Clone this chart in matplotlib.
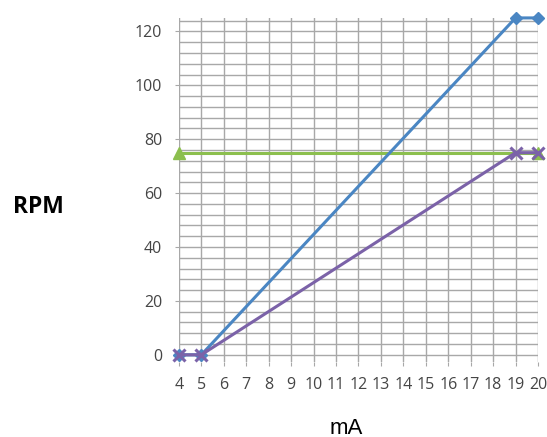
import numpy as np
import matplotlib.pyplot as plt
from matplotlib.ticker import MultipleLocator

# Data
ma_ticks = list(range(4, 21))
blue_x = [4, 5, 19, 20]
blue_rpm = [0, 0, 125, 125]
purple_x = [4, 5, 19, 20]
purple_rpm = [0, 0, 75, 75]
green_x = [4, 20]
green_rpm = [75, 75]

plt.rcParams['font.family'] = ['Open Sans', 'DejaVu Sans']

fig = plt.figure(figsize=(5.47, 4.37), dpi=100)
ax = fig.add_axes([0.327, 0.172, 0.6565, 0.787])

ax.plot(green_x, green_rpm, color='#8cbf4e', lw=2.2, marker='^', ms=8,
        clip_on=False, zorder=3)
ax.plot(blue_x, blue_rpm, color='#4a86c3', lw=2.2, marker='D', ms=6,
        clip_on=False, zorder=4)
ax.plot(purple_x, purple_rpm, color='#7b62a8', lw=2.2, marker='x', ms=8,
        mew=2.2, clip_on=False, zorder=5)

ax.set_xlim(4, 20)
ax.set_ylim(-2.6, 125)
ax.set_xticks(ma_ticks)
ax.set_yticks(range(0, 121, 20))
ax.yaxis.set_minor_locator(MultipleLocator(4))
ax.grid(True, which='both', color='#a8a8a8', lw=1)
ax.tick_params(axis='both', which='both', colors='#a8a8a8', labelcolor='#454545',
               labelsize=11.5, length=3)
ax.tick_params(axis='y', which='major', pad=9)
ax.tick_params(axis='x', which='major', pad=8)
ax.tick_params(axis='y', which='minor', length=0)
for s in ax.spines.values():
    s.set_visible(False)

fig.text(38 / 547, 1 - 207 / 437, 'RPM', fontsize=16.5, fontweight='bold',
         ha='center', va='center')
fig.text(346 / 547, 1 - 428 / 437, 'mA', fontsize=16, family=['Liberation Sans'],
         ha='center', va='center')

plt.savefig('out.png', dpi=100)
